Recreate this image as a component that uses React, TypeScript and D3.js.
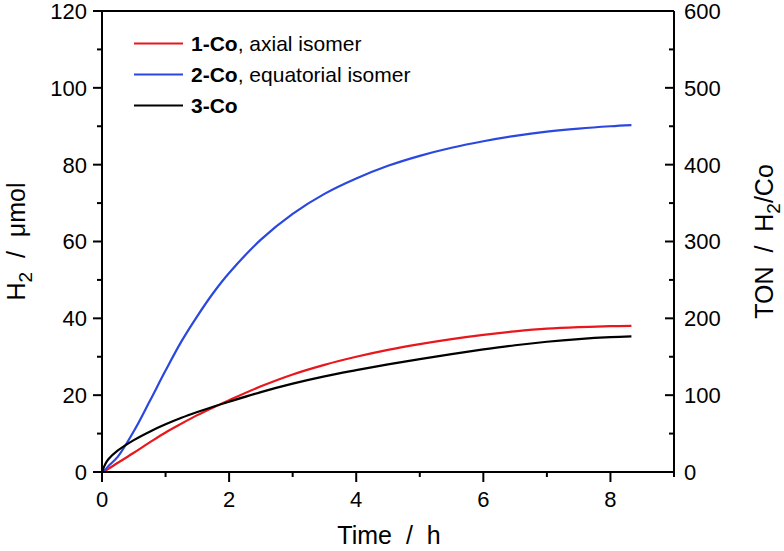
import React from "react";
import * as d3 from "d3";

const times = [0, 0.05, 0.1, 0.25, 0.5, 0.75, 1, 1.25, 1.5, 1.75, 2, 2.5, 3, 3.5, 4, 4.5, 5, 5.5, 6, 6.5, 7, 7.5, 8, 8.33];
const co1 = [0, 0.3, 0.8, 2.4, 5.0, 7.7, 10.3, 12.6, 14.8, 16.8, 18.7, 22.3, 25.4, 27.9, 30.0, 31.8, 33.3, 34.6, 35.7, 36.6, 37.3, 37.7, 37.95, 38.05];
const co2 = [0, 0.6, 1.5, 4.0, 10.6, 18.4, 26.4, 34.0, 40.6, 46.6, 51.8, 60.5, 67.2, 72.4, 76.4, 79.7, 82.3, 84.4, 86.1, 87.5, 88.6, 89.4, 90.0, 90.3];
const co3 = [0, 2.0, 3.3, 5.6, 8.3, 10.5, 12.4, 14.1, 15.6, 17.0, 18.3, 20.8, 23.0, 24.9, 26.5, 28.0, 29.4, 30.7, 31.9, 33.0, 33.9, 34.6, 35.1, 35.3];

const seriesNames = ["1-Co", "2-Co", "3-Co"];
const seriesSuffix = [", axial isomer", ", equatorial isomer", ""];
const seriesColors = ["#e8171c", "#2b48de", "#000000"];
const seriesValues = [co1, co2, co3];

const xMajor = [0, 2, 4, 6, 8];
const xMinor = [1, 3, 5, 7, 9];
const yMajor = [0, 20, 40, 60, 80, 100, 120];
const yMinor = [10, 30, 50, 70, 90, 110];
const y2Major = [0, 100, 200, 300, 400, 500, 600];
const y2Minor = [50, 150, 250, 350, 450, 550];

const FONT = "'Liberation Sans', Arial, sans-serif";

export default function App() {
  const L = 102, R = 674, T = 11, B = 472;
  const x = d3.scaleLinear().domain([0, 9]).range([L, R]);
  const y = d3.scaleLinear().domain([0, 120]).range([B, T]);
  const y2 = d3.scaleLinear().domain([0, 600]).range([B, T]);

  const line = (vals: number[]) =>
    d3
      .line<number>()
      .x((_, i) => x(times[i]))
      .y((v) => y(v))
      .curve(d3.curveCatmullRom.alpha(0.5))(vals) || "";

  const tickFs = 22;
  const titleFs = 25;
  const axisStroke = 2;

  return (
    <svg width={784} height={551} style={{ position: "absolute", left: 0, top: 0, background: "#fff" }} fontFamily={FONT}>
      <rect x={0} y={0} width={784} height={551} fill="#fff" />
      {seriesValues.map((vals, i) => (
        <path key={i} d={line(vals)} fill="none" stroke={seriesColors[i]} strokeWidth={2.2} />
      ))}
      <line x1={L} x2={R} y1={T} y2={T} stroke="#000" strokeWidth={axisStroke} />
      <line x1={L} x2={R} y1={B} y2={B} stroke="#000" strokeWidth={axisStroke} />
      <line x1={L} x2={L} y1={T} y2={B} stroke="#000" strokeWidth={axisStroke} />
      <line x1={R} x2={R} y1={T} y2={B} stroke="#000" strokeWidth={axisStroke} />
      {yMajor.map((v) => (
        <g key={"ym" + v}>
          <line x1={L - 9} x2={L} y1={y(v)} y2={y(v)} stroke="#000" strokeWidth={axisStroke} />
          <text x={L - 15} y={y(v)} dy="0.36em" textAnchor="end" fontSize={tickFs}>{v}</text>
        </g>
      ))}
      {yMinor.map((v) => (
        <line key={"yn" + v} x1={L - 5} x2={L} y1={y(v)} y2={y(v)} stroke="#000" strokeWidth={axisStroke} />
      ))}
      {xMajor.map((v) => (
        <g key={"xm" + v}>
          <line x1={x(v)} x2={x(v)} y1={B} y2={B + 10} stroke="#000" strokeWidth={axisStroke} />
          <text x={x(v)} y={507} textAnchor="middle" fontSize={tickFs}>{v}</text>
        </g>
      ))}
      {xMinor.map((v) => (
        <line key={"xn" + v} x1={x(v)} x2={x(v)} y1={B} y2={B + 5} stroke="#000" strokeWidth={axisStroke} />
      ))}
      {y2Major.map((v) => (
        <g key={"rm" + v}>
          <line x1={R - 9} x2={R} y1={y2(v)} y2={y2(v)} stroke="#000" strokeWidth={axisStroke} />
          <text x={R + 10} y={y2(v)} dy="0.36em" textAnchor="start" fontSize={tickFs}>{v}</text>
        </g>
      ))}
      {y2Minor.map((v) => (
        <line key={"rn" + v} x1={R - 5} x2={R} y1={y2(v)} y2={y2(v)} stroke="#000" strokeWidth={axisStroke} />
      ))}
      <text x={389} y={544} textAnchor="middle" fontSize={titleFs} xmlSpace="preserve">{"Time  /  h"}</text>
      <text transform={`translate(25,${(T + B) / 2}) rotate(-90)`} textAnchor="middle" fontSize={titleFs} xmlSpace="preserve">
        <tspan>H</tspan>
        <tspan dy={7} fontSize={19}>2</tspan>
        <tspan dy={-7}>{"  /  \u03bcmol"}</tspan>
      </text>
      <text transform={`translate(773,${(T + B) / 2}) rotate(-90)`} textAnchor="middle" fontSize={titleFs} xmlSpace="preserve">
        <tspan>{"TON  /  H"}</tspan>
        <tspan dy={7} fontSize={19}>2</tspan>
        <tspan dy={-7}>/Co</tspan>
      </text>
      {seriesNames.map((n, i) => {
        const ly = 43.5 + i * 31;
        return (
          <g key={"lg" + i}>
            <line x1={134} x2={183} y1={ly} y2={ly} stroke={seriesColors[i]} strokeWidth={2.2} />
            <text x={191} y={ly} dy="0.36em" fontSize={21} xmlSpace="preserve">
              <tspan fontWeight="bold">{n}</tspan>
              <tspan>{seriesSuffix[i]}</tspan>
            </text>
          </g>
        );
      })}
    </svg>
  );
}
